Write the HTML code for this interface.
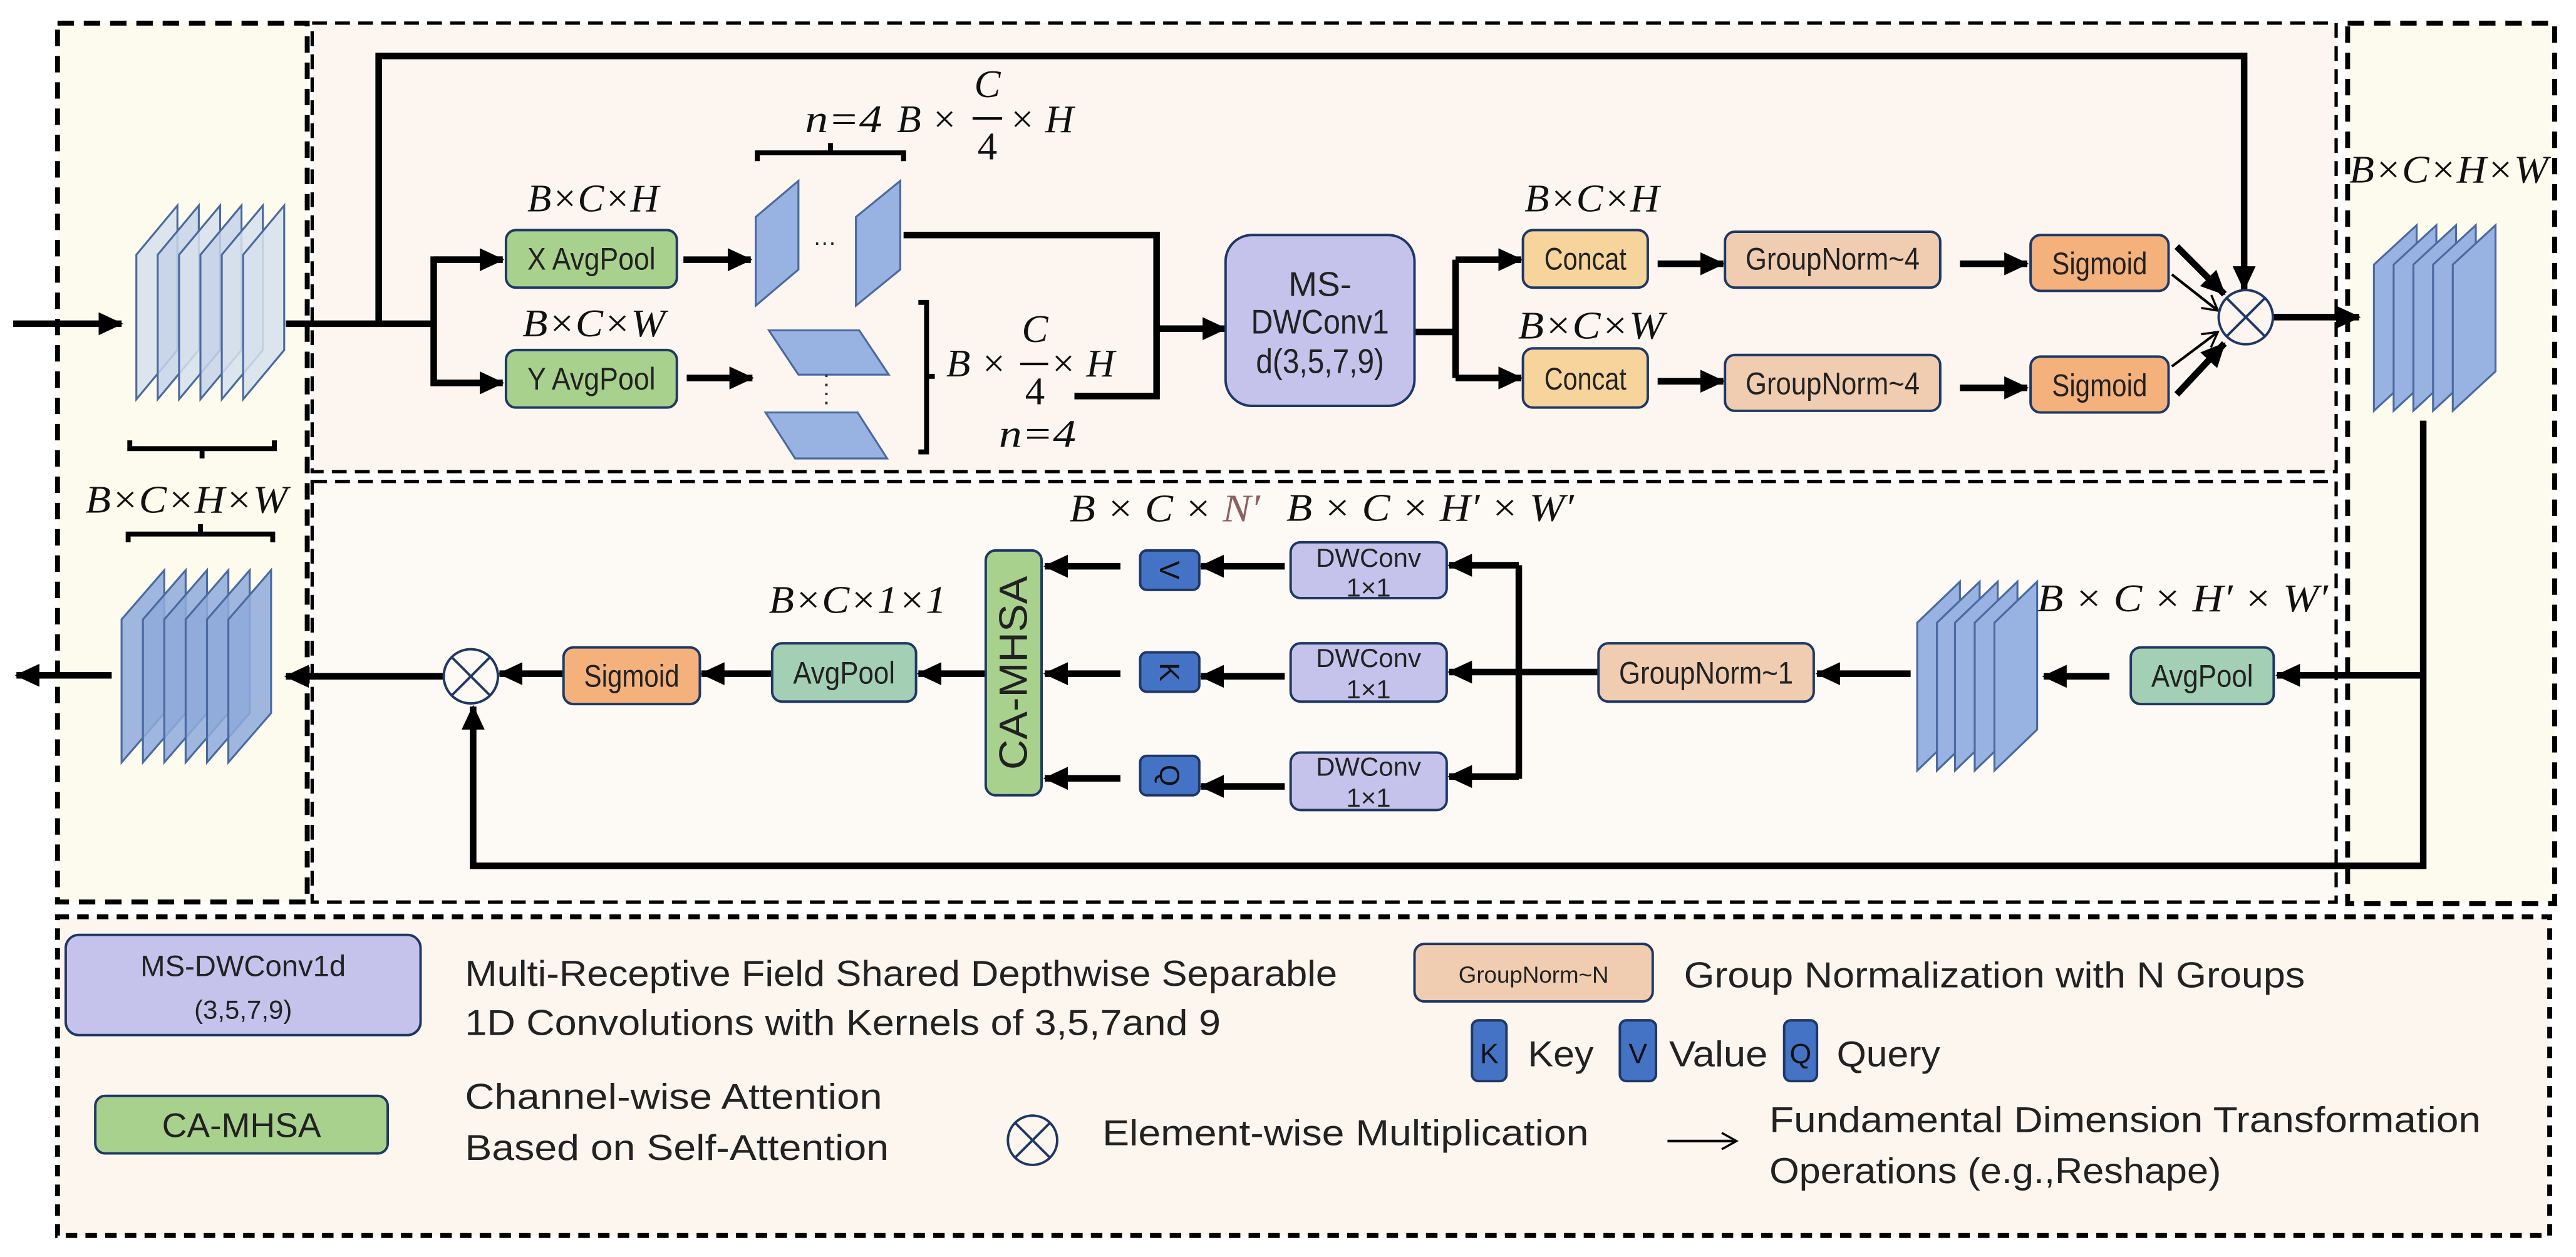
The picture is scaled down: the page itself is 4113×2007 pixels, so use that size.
<!DOCTYPE html>
<html><head><meta charset="utf-8"><style>
html,body{margin:0;padding:0;background:#fff;}
svg{display:block;}
.s{font-family:"Liberation Sans",sans-serif;fill:#222;}
.m{font-family:"Liberation Serif",serif;font-style:italic;fill:#111;}
</style></head><body>
<svg width="4113" height="2007" viewBox="0 0 1568 765" xmlns="http://www.w3.org/2000/svg">
<defs>
<marker id="a" markerUnits="userSpaceOnUse" markerWidth="16" markerHeight="14" refX="14" refY="7" orient="auto"><path d="M0,0 L15,7 L0,14 z" fill="#000"/></marker>
<marker id="o" markerUnits="userSpaceOnUse" markerWidth="12" markerHeight="12" refX="10" refY="6" orient="auto"><path d="M1,1 L10,6 L1,11" fill="none" stroke="#000" stroke-width="1.3"/></marker>
</defs>
<rect width="1568" height="765" fill="#fff"/>
<!-- panels -->
<rect x="35" y="14" width="152" height="535" fill="#fdfbee" stroke="#000" stroke-width="3" stroke-dasharray="10,6"/>
<rect x="190" y="14" width="1232" height="273" fill="#fdf6f0" stroke="#000" stroke-width="2" stroke-dasharray="9,5"/>
<rect x="190" y="293" width="1232" height="256" fill="#fdf9f4" stroke="#000" stroke-width="2" stroke-dasharray="9,5"/>
<rect x="1429" y="14" width="126" height="536" fill="#fdfbee" stroke="#000" stroke-width="3" stroke-dasharray="10,6"/>
<rect x="35" y="558" width="1517" height="194" fill="#fdf6ef" stroke="#000" stroke-width="3" stroke-dasharray="7,5"/>

<g stroke="#000" stroke-width="4" fill="none">
<!-- input -->
<line x1="8" y1="197" x2="74" y2="197" marker-end="url(#a)"/>
<polyline points="174,197 264,197"/>
<polyline points="230.5,197 230.5,34 1366,34 1366,176" marker-end="url(#a)"/>
<polyline points="306,158 264,158 264,233 306,233" />
<line x1="264" y1="158" x2="306" y2="158" marker-end="url(#a)"/>
<line x1="264" y1="233" x2="306" y2="233" marker-end="url(#a)"/>
<line x1="416" y1="158" x2="457" y2="158" marker-end="url(#a)"/>
<line x1="418" y1="230" x2="458" y2="230" marker-end="url(#a)"/>
<polyline points="550,143 704,143 704,241 654,241"/>
<line x1="704" y1="200" x2="746" y2="200" marker-end="url(#a)"/>
<polyline points="861,202 886,202"/>
<polyline points="886,158 886,230"/>
<line x1="886" y1="158" x2="926" y2="158" marker-end="url(#a)"/>
<line x1="886" y1="230" x2="926" y2="230" marker-end="url(#a)"/>
<line x1="1009" y1="160.5" x2="1049" y2="160.5" marker-end="url(#a)"/>
<line x1="1009" y1="232" x2="1049" y2="232" marker-end="url(#a)"/>
<line x1="1193" y1="160.5" x2="1234" y2="160.5" marker-end="url(#a)"/>
<line x1="1193" y1="236" x2="1234" y2="236" marker-end="url(#a)"/>
<line x1="1325" y1="150" x2="1354" y2="179" marker-end="url(#a)"/>
<line x1="1325" y1="240" x2="1354" y2="209" marker-end="url(#a)"/>
<line x1="1383" y1="193" x2="1436" y2="193" marker-end="url(#a)"/>
<!-- bottom -->
<polyline points="1475,256 1475,527 288,527 288,430" marker-end="url(#a)"/>
<line x1="1475" y1="411" x2="1386" y2="411" marker-end="url(#a)"/>
<line x1="1284" y1="411.6" x2="1244" y2="411.6" marker-end="url(#a)"/>
<line x1="1163" y1="410" x2="1106" y2="410" marker-end="url(#a)"/>
<polyline points="973,409 924.5,409"/>
<polyline points="924.5,344 924.5,474"/>
<line x1="924.5" y1="344" x2="882" y2="344" marker-end="url(#a)"/>
<line x1="924.5" y1="409" x2="882" y2="409" marker-end="url(#a)"/>
<line x1="924.5" y1="472.6" x2="882" y2="472.6" marker-end="url(#a)"/>
<line x1="782" y1="344.6" x2="731" y2="344.6" marker-end="url(#a)"/>
<line x1="782" y1="411.6" x2="731" y2="411.6" marker-end="url(#a)"/>
<line x1="782" y1="478.6" x2="731" y2="478.6" marker-end="url(#a)"/>
<line x1="682" y1="344.6" x2="636" y2="344.6" marker-end="url(#a)"/>
<line x1="682" y1="410" x2="636" y2="410" marker-end="url(#a)"/>
<line x1="682" y1="473.7" x2="636" y2="473.7" marker-end="url(#a)"/>
<line x1="600" y1="410" x2="559" y2="410" marker-end="url(#a)"/>
<line x1="470" y1="410" x2="427" y2="410" marker-end="url(#a)"/>
<line x1="343" y1="410" x2="304" y2="410" marker-end="url(#a)"/>
<line x1="270" y1="411.6" x2="174" y2="411.6" marker-end="url(#a)"/>
<line x1="68" y1="411" x2="10" y2="411" marker-end="url(#a)"/>
</g>
<g stroke="#000" stroke-width="1.6" fill="none">
<line x1="1322" y1="167" x2="1350" y2="189" marker-end="url(#o)"/>
<line x1="1322" y1="223" x2="1350" y2="202" marker-end="url(#o)"/>
</g>

<!-- stacks -->
<g stroke="#4a6aa0" stroke-width="1.2">
<g fill="#d6e0ec" fill-opacity="0.85">
<polygon points="83,155 108,125 108,213 83,243"/>
<polygon points="96,155 121,125 121,213 96,243" fill="#c5d3e8"/>
<polygon points="109,155 134,125 134,213 109,243"/>
<polygon points="122,155 147,125 147,213 122,243" fill="#c5d3e8"/>
<polygon points="135,155 160,125 160,213 135,243"/>
<polygon points="148,155 173,125 173,213 148,243"/>
</g>
<g fill="#98b3e2">
<polygon points="1445,161 1471,137 1471,226 1445,250"/>
<polygon points="1457,161 1483,137 1483,226 1457,250"/>
<polygon points="1469,161 1495,137 1495,226 1469,250"/>
<polygon points="1481,161 1507,137 1507,226 1481,250"/>
<polygon points="1493,161 1519,137 1519,226 1493,250"/>
</g>
<g fill="#98b3e2">
<polygon points="1167,379 1193,354 1193,444 1167,469"/>
<polygon points="1179,379 1205,354 1205,444 1179,469"/>
<polygon points="1190,379 1216,354 1216,444 1190,469"/>
<polygon points="1202,379 1228,354 1228,444 1202,469"/>
<polygon points="1214,379 1240,354 1240,444 1214,469"/>
</g>
<g fill="#8eaadb" fill-opacity="0.85">
<polygon points="74,377 100,347 100,434 74,464"/>
<polygon points="87,377 113,347 113,434 87,464"/>
<polygon points="100,377 126,347 126,434 100,464"/>
<polygon points="113,377 139,347 139,434 113,464"/>
<polygon points="126,377 152,347 152,434 126,464"/>
<polygon points="139,377 165,347 165,434 139,464"/>
</g>
<g fill="#98b3e2">
<polygon points="460,132 486,110 486,164 460,186"/>
<polygon points="521,132 548,110 548,164 521,186"/>
<polygon points="468,201 523,201 541,228 486,228"/>
<polygon points="466,251 522,251 540,279 484,279"/>
</g>
</g>
<text x="502" y="152" class="s" font-size="14" text-anchor="middle">···</text>
<line x1="503" y1="228" x2="503" y2="248" stroke="#333" stroke-width="1.5" stroke-dasharray="1.5,4"/>

<!-- brackets -->
<g stroke="#000" stroke-width="3" fill="none">
<polyline points="461,98 461,93 550,93 550,98"/><line x1="505.5" y1="93" x2="505.5" y2="87"/>
<polyline points="559,184 564,184 564,275 559,275"/><line x1="564" y1="229" x2="569" y2="229"/>
<polyline points="79,268 79,273 167,273 167,268"/><line x1="123" y1="273" x2="123" y2="279"/>
<polyline points="78,330 78,325 166,325 166,330"/><line x1="122" y1="325" x2="122" y2="319"/>
</g>

<!-- boxes -->
<g stroke="#1f3864" stroke-width="1.5">
<rect x="308" y="140" width="104" height="35" rx="6" fill="#a9d18e"/>
<rect x="308" y="213" width="104" height="35" rx="6" fill="#a9d18e"/>
<rect x="746" y="143" width="115" height="104" rx="16" fill="#c5c3ec"/>
<rect x="927" y="140" width="76" height="35" rx="6" fill="#f6d49b"/>
<rect x="927" y="212" width="76" height="36" rx="6" fill="#f6d49b"/>
<rect x="1050" y="141" width="131" height="34" rx="6" fill="#f0ccb0"/>
<rect x="1050" y="216" width="131" height="34" rx="6" fill="#f0ccb0"/>
<rect x="1236" y="143" width="84" height="34" rx="6" fill="#f4b17c"/>
<rect x="1236" y="217" width="84" height="34" rx="6" fill="#f4b17c"/>
<rect x="1297" y="394" width="87" height="34.5" rx="6" fill="#a3cfb5"/>
<rect x="973" y="391.5" width="131" height="35.5" rx="6" fill="#f0ccb0"/>
<rect x="785.6" y="330" width="95" height="34" rx="6" fill="#c5c3ec"/>
<rect x="785.6" y="391.5" width="95" height="35.5" rx="6" fill="#c5c3ec"/>
<rect x="785.6" y="458" width="95" height="35" rx="6" fill="#c5c3ec"/>
<rect x="694" y="335" width="36" height="24" rx="4" fill="#4472c4"/>
<rect x="694" y="397" width="36" height="24" rx="4" fill="#4472c4"/>
<rect x="694" y="460" width="36" height="24" rx="4" fill="#4472c4"/>
<rect x="600" y="335" width="34" height="149" rx="6" fill="#a9d18e"/>
<rect x="470" y="391.5" width="87.6" height="35.5" rx="6" fill="#a3cfb5"/>
<rect x="343" y="394" width="83" height="34.5" rx="6" fill="#f4b17c"/>
<!-- legend boxes -->
<rect x="40" y="569" width="216" height="61" rx="8" fill="#c5c3ec"/>
<rect x="861" y="574.5" width="145" height="35" rx="6" fill="#f0ccb0"/>
<rect x="896" y="621" width="21" height="37" rx="4" fill="#4472c4"/>
<rect x="986" y="621" width="22" height="37" rx="4" fill="#4472c4"/>
<rect x="1086" y="621" width="20" height="37" rx="4" fill="#4472c4"/>
<rect x="58" y="667" width="178" height="35" rx="6" fill="#a9d18e"/>
</g>
<g stroke="#1f3864" stroke-width="1.5" fill="none">
<circle cx="1367" cy="193" r="16.5"/><line x1="1355.3" y1="181.3" x2="1378.7" y2="204.7"/><line x1="1378.7" y1="181.3" x2="1355.3" y2="204.7"/>
<circle cx="286.6" cy="411.6" r="16.5"/><line x1="274.9" y1="399.9" x2="298.3" y2="423.3"/><line x1="298.3" y1="399.9" x2="274.9" y2="423.3"/>
<circle cx="628.5" cy="694" r="15"/><line x1="617.9" y1="683.4" x2="639.1" y2="704.6"/><line x1="639.1" y1="683.4" x2="617.9" y2="704.6"/>
</g>
<line x1="1015" y1="694.5" x2="1057" y2="694.5" stroke="#000" stroke-width="1.6" marker-end="url(#o)"/>

<!-- box text -->
<g class="s" font-size="19" text-anchor="middle">
<text x="360" y="164" textLength="78" lengthAdjust="spacingAndGlyphs">X AvgPool</text>
<text x="360" y="237" textLength="78" lengthAdjust="spacingAndGlyphs">Y AvgPool</text>
<text x="803.5" y="180" font-size="21">MS-</text>
<text x="803.5" y="203" font-size="21" textLength="84" lengthAdjust="spacingAndGlyphs">DWConv1</text>
<text x="803.5" y="227" font-size="21" textLength="78" lengthAdjust="spacingAndGlyphs">d(3,5,7,9)</text>
<text x="965" y="164" textLength="50" lengthAdjust="spacingAndGlyphs">Concat</text>
<text x="965" y="237" textLength="50" lengthAdjust="spacingAndGlyphs">Concat</text>
<text x="1115.5" y="164" textLength="106" lengthAdjust="spacingAndGlyphs">GroupNorm~4</text>
<text x="1115.5" y="240" textLength="106" lengthAdjust="spacingAndGlyphs">GroupNorm~4</text>
<text x="1278" y="167" textLength="58" lengthAdjust="spacingAndGlyphs">Sigmoid</text>
<text x="1278" y="241" textLength="58" lengthAdjust="spacingAndGlyphs">Sigmoid</text>
<text x="1340.5" y="418" textLength="62" lengthAdjust="spacingAndGlyphs">AvgPool</text>
<text x="1038.5" y="416" textLength="106" lengthAdjust="spacingAndGlyphs">GroupNorm~1</text>
<text x="833" y="345" font-size="16">DWConv</text><text x="833" y="363" font-size="16">1×1</text>
<text x="833" y="406" font-size="16">DWConv</text><text x="833" y="425" font-size="16">1×1</text>
<text x="833" y="472" font-size="16">DWConv</text><text x="833" y="491" font-size="16">1×1</text>
<text x="513.8" y="416" textLength="62" lengthAdjust="spacingAndGlyphs">AvgPool</text>
<text x="384.5" y="418" textLength="58" lengthAdjust="spacingAndGlyphs">Sigmoid</text>
<text transform="translate(712,347) rotate(90)" font-size="17" fill="#111" dy="6">V</text>
<text transform="translate(712,409) rotate(90)" font-size="17" fill="#111" dy="6">K</text>
<text transform="translate(712,472) rotate(90)" font-size="17" fill="#111" dy="6">Q</text>
<text transform="translate(617,409.5) rotate(-90)" font-size="24" dy="8" textLength="118" lengthAdjust="spacingAndGlyphs">CA-MHSA</text>
<!-- legend -->
<text x="148" y="594" font-size="18">MS-DWConv1d</text>
<text x="148" y="620" font-size="16">(3,5,7,9)</text>
<text x="933.5" y="598" font-size="14">GroupNorm~N</text>
<text x="906.5" y="647" font-size="17" fill="#111">K</text>
<text x="997" y="647" font-size="17" fill="#111">V</text>
<text x="1096" y="647" font-size="17" fill="#111">Q</text>
<text x="147" y="692" font-size="21">CA-MHSA</text>
</g>
<g class="s" font-size="22">
<text x="283" y="600" textLength="531" lengthAdjust="spacingAndGlyphs">Multi-Receptive Field Shared Depthwise Separable</text>
<text x="283" y="630" textLength="460" lengthAdjust="spacingAndGlyphs">1D Convolutions with Kernels of 3,5,7and 9</text>
<text x="1025" y="601" textLength="378" lengthAdjust="spacingAndGlyphs">Group Normalization with N Groups</text>
<text x="930" y="649" textLength="40" lengthAdjust="spacingAndGlyphs">Key</text>
<text x="1016" y="649" textLength="60" lengthAdjust="spacingAndGlyphs">Value</text>
<text x="1118" y="649" textLength="63" lengthAdjust="spacingAndGlyphs">Query</text>
<text x="283" y="675" textLength="254" lengthAdjust="spacingAndGlyphs">Channel-wise Attention</text>
<text x="283" y="706" textLength="258" lengthAdjust="spacingAndGlyphs">Based on Self-Attention</text>
<text x="671" y="697" textLength="296" lengthAdjust="spacingAndGlyphs">Element-wise Multiplication</text>
<text x="1077" y="689" textLength="433" lengthAdjust="spacingAndGlyphs">Fundamental Dimension Transformation</text>
<text x="1077" y="720" textLength="275" lengthAdjust="spacingAndGlyphs">Operations (e.g.,Reshape)</text>
</g>

<!-- math labels -->
<g class="m" font-size="24">
<text x="321" y="128.7" textLength="80" lengthAdjust="spacingAndGlyphs">B×C×H</text>
<text x="318" y="204.6" textLength="87" lengthAdjust="spacingAndGlyphs">B×C×W</text>
<text x="490" y="80.4" textLength="47" lengthAdjust="spacingAndGlyphs">n=4</text>
<text x="546" y="80.4">B ×</text>
<text x="601" y="59" text-anchor="middle">C</text>
<text x="601" y="97" text-anchor="middle" font-style="normal">4</text>
<text x="614" y="80.4">× H</text>
<text x="576" y="229">B ×</text>
<text x="630" y="208" text-anchor="middle">C</text>
<text x="630" y="246" text-anchor="middle" font-style="normal">4</text>
<text x="639" y="229">× H</text>
<text x="608" y="272" textLength="47" lengthAdjust="spacingAndGlyphs">n=4</text>
<text x="928" y="128.7" textLength="82" lengthAdjust="spacingAndGlyphs">B×C×H</text>
<text x="924" y="206" textLength="89" lengthAdjust="spacingAndGlyphs">B×C×W</text>
<text x="1430" y="111" textLength="121" lengthAdjust="spacingAndGlyphs">B×C×H×W</text>
<text x="52" y="312" textLength="123" lengthAdjust="spacingAndGlyphs">B×C×H×W</text>
<text x="651" y="317.4" textLength="116" lengthAdjust="spacingAndGlyphs">B × C × <tspan fill="#8b6060">N′</tspan></text>
<text x="783" y="317" textLength="175" lengthAdjust="spacingAndGlyphs">B × C × H′ × W′</text>
<text x="468" y="373" textLength="108" lengthAdjust="spacingAndGlyphs">B×C×1×1</text>
<text x="1240" y="372" textLength="177" lengthAdjust="spacingAndGlyphs">B × C × H′ × W′</text>
</g>
<line x1="592" y1="72" x2="610" y2="72" stroke="#000" stroke-width="1.5"/>
<line x1="621" y1="221.5" x2="638" y2="221.5" stroke="#000" stroke-width="1.5"/>
</svg>
</body></html>
